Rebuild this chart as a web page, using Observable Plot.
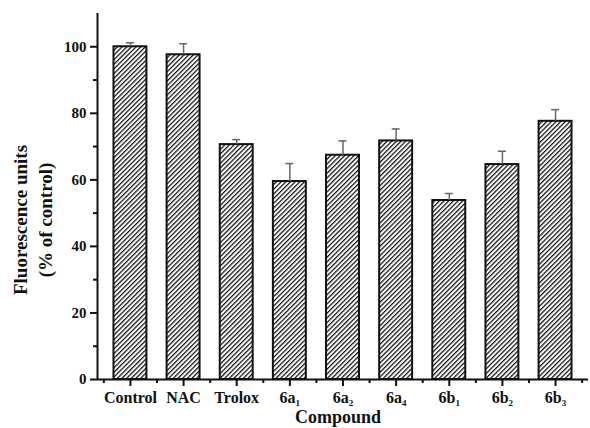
<!DOCTYPE html>
<html>
<head>
<meta charset="utf-8">
<script src="https://cdn.jsdelivr.net/npm/d3@7"></script>
<script src="https://cdn.jsdelivr.net/npm/@observablehq/plot@0.6"></script>
<style>
  html, body { margin: 0; padding: 0; background: #fff; }
  #chart { position: relative; width: 590px; height: 428px; }
  #chart svg { font-family: "Liberation Serif", "Times New Roman", serif; font-weight: bold; }
</style>
</head>
<body>
<div id="chart"></div>
<script>
// ---- data ----
const categories = ["Control", "NAC", "Trolox", "6a1", "6a2", "6a4", "6b1", "6b2", "6b3"];
const labelMain  = ["Control", "NAC", "Trolox", "6a", "6a", "6a", "6b", "6b", "6b"];
const labelSub   = ["", "", "", "1", "2", "4", "1", "2", "3"];
const values     = [100, 97.6, 70.6, 59.5, 67.4, 71.7, 53.8, 64.6, 77.6];
const errors     = [1.2, 3.3, 1.5, 5.4, 4.3, 3.6, 2.1, 4.0, 3.5];
const yTicks     = [0, 20, 40, 60, 80, 100];
const yMinor     = [10, 30, 50, 70, 90];

const data = categories.map((c, i) => ({i, c, v: values[i], e: errors[i]}));
const halfBar = 0.31;
const xMajor = categories.map((c, i) => i);
const xMinor = d3.range(-0.5, categories.length, 1);

const plot = Plot.plot({
  width: 590,
  height: 428,
  marginLeft: 97,
  marginRight: 2,
  marginTop: 13,
  marginBottom: 49,
  x: {domain: [-0.62, categories.length - 1 + 0.62]},
  y: {domain: [0, 110]},
  style: {fontFamily: "Liberation Serif", fontWeight: "bold", fontSize: "14px", color: "#111"},
  marks: [
    // hatched bars
    Plot.rectY(data, {x1: d => d.i - halfBar, x2: d => d.i + halfBar, y: "v",
      fill: "url(#hatch)", stroke: "#111", strokeWidth: 2}),
    // error bars (upper only)
    Plot.ruleX(data, {x: "i", y1: "v", y2: d => d.v + d.e, stroke: "#666", strokeWidth: 1.5}),
    Plot.ruleY(data, {x1: d => d.i - 0.075, x2: d => d.i + 0.075, y: d => d.v + d.e, stroke: "#666", strokeWidth: 1.5}),
    // y axis
    Plot.axisY({ticks: yTicks, tickSize: 7, tickPadding: 4, tickFormat: d => d, fontSize: 15, strokeWidth: 2, label: null}),
    Plot.axisY({ticks: yMinor, tickSize: 4, tickFormat: () => "", strokeWidth: 2, label: null}),
    Plot.ruleX([-0.62], {y1: 0, y2: 110, stroke: "#111", strokeWidth: 2}),
    // x axis
    Plot.axisX({ticks: xMajor, tickSize: 7, tickPadding: 5, tickFormat: i => labelMain[i], fontSize: 16, strokeWidth: 2, label: null}),
    Plot.axisX({ticks: xMinor, tickSize: 4, tickFormat: () => "", strokeWidth: 2, label: null}),
    Plot.ruleY([0], {stroke: "#111", strokeWidth: 2})
  ]
});

// hatch pattern
const svg = d3.select(plot);
const defs = svg.insert("defs", ":first-child");
const pat = defs.append("pattern")
  .attr("id", "hatch")
  .attr("patternUnits", "userSpaceOnUse")
  .attr("width", 3.3).attr("height", 10)
  .attr("patternTransform", "rotate(45)");
pat.append("rect").attr("width", 3.3).attr("height", 10).attr("fill", "#fff");
pat.append("line").attr("x1", 0.6).attr("y1", 0).attr("x2", 0.6).attr("y2", 10)
  .attr("stroke", "#111").attr("stroke-width", 1.3);

// subscripts on x tick labels (major ticks only: the labelled ones)
let k = 0;
svg.selectAll('g[aria-label="x-axis tick label"] text').each(function() {
  const txt = this.textContent;
  if (!txt) return;
  const sub = labelSub[k++];
  if (sub) {
    d3.select(this).append("tspan").attr("font-size", "9px").attr("dy", "3").text(sub);
  }
});

// axis titles
svg.append("text")
  .attr("x", 338).attr("y", 423)
  .attr("text-anchor", "middle").attr("font-size", 18).attr("font-weight", "bold")
  .attr("fill", "#111").text("Compound");
const yt = svg.append("text")
  .attr("transform", "translate(31,220) rotate(-90)")
  .attr("text-anchor", "middle").attr("font-size", 19).attr("font-weight", "bold")
  .attr("fill", "#111");
yt.append("tspan").attr("x", 0).attr("dy", "-0.2em").text("Fluorescence units");
yt.append("tspan").attr("x", 0).attr("dy", "1.3em").text("(% of control)");

document.getElementById("chart").appendChild(plot);
</script>
</body>
</html>
